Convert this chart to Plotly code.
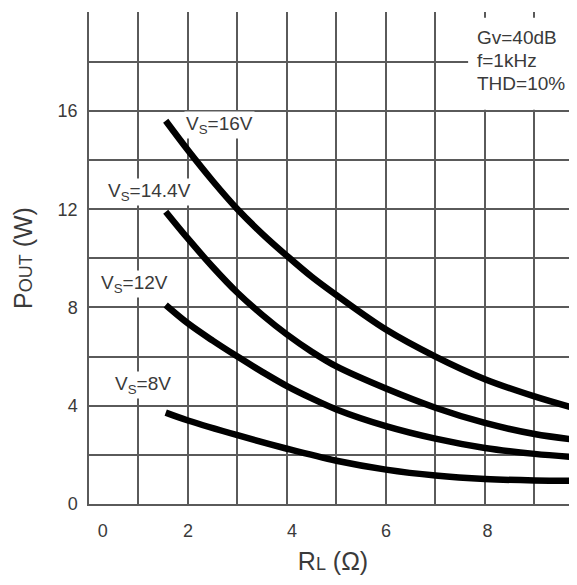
import plotly.graph_objects as go

# Load resistance (ohm) sample points and output power (W) per supply voltage
rl_16 = [1.55, 2.0, 2.5, 3.0, 3.5, 4.0, 4.5, 5.0, 6.0, 7.0, 8.0, 9.0, 9.9]
p_16 = [15.6, 14.4, 13.15, 12.0, 11.0, 10.1, 9.25, 8.5, 7.1, 6.0, 5.08, 4.38, 3.85]

rl_144 = [1.55, 2.0, 2.5, 3.0, 3.5, 4.0, 4.5, 5.0, 6.0, 7.0, 8.0, 9.0, 9.9]
p_144 = [11.9, 10.8, 9.65, 8.6, 7.7, 6.9, 6.2, 5.6, 4.7, 3.92, 3.3, 2.85, 2.6]

rl_12 = [1.55, 2.0, 2.5, 3.0, 3.5, 4.0, 4.5, 5.0, 6.0, 7.0, 8.0, 9.0, 9.9]
p_12 = [8.1, 7.35, 6.65, 6.0, 5.38, 4.8, 4.3, 3.85, 3.17, 2.66, 2.28, 2.04, 1.9]

rl_8 = [1.55, 2.0, 3.0, 4.0, 5.0, 6.0, 7.0, 8.0, 9.0, 9.9]
p_8 = [3.72, 3.4, 2.8, 2.25, 1.76, 1.4, 1.16, 1.02, 0.96, 0.95]

series_labels = ["V<sub>S</sub>=16V", "V<sub>S</sub>=14.4V", "V<sub>S</sub>=12V", "V<sub>S</sub>=8V"]
label_pos = [(1.92, 15.45), (0.34, 12.7), (0.2, 8.95), (0.48, 4.85)]

conditions = ["Gv=40dB", "f=1kHz", "THD=10%"]

x_tick_labels = ["0", "2", "4", "6", "8"]
x_tick_vals = [0.28, 2, 4.1, 6, 8.05]
y_tick_vals = [0, 4, 8, 12, 16]

FONT = "Liberation Sans, Arial, sans-serif"
TXT = "#3a3a3a"
GRID = "#5a5a5a"

fig = go.Figure()
for xs, ys in [(rl_16, p_16), (rl_144, p_144), (rl_12, p_12), (rl_8, p_8)]:
    fig.add_trace(go.Scatter(x=xs, y=ys, mode="lines",
                             line=dict(color="black", width=6.5, shape="spline", smoothing=1.0),
                             showlegend=False, hoverinfo="skip"))

# white box behind the test conditions
fig.add_shape(type="rect", xref="x", yref="y", x0=7.66, x1=10.2, y0=16.05, y1=19.8,
              fillcolor="white", line=dict(width=0), layer="above")

for txt, (lx, ly) in zip(series_labels, label_pos):
    fig.add_annotation(x=lx, y=ly, xref="x", yref="y", text=txt, showarrow=False,
                       xanchor="left", yanchor="middle", bgcolor="white", borderpad=1,
                       font=dict(family=FONT, size=19, color=TXT))

for i, txt in enumerate(conditions):
    fig.add_annotation(x=7.8, y=19.0 - i * 0.95, xref="x", yref="y", text=txt, showarrow=False,
                       xanchor="left", yanchor="middle",
                       font=dict(family=FONT, size=19, color=TXT))

fig.update_layout(
    width=569, height=577,
    margin=dict(l=81, r=0, t=4, b=81),
    paper_bgcolor="white", plot_bgcolor="white",
    font=dict(family=FONT, color=TXT),
)

fig.update_xaxes(
    range=[0, 9.86],
    tickmode="array", tickvals=x_tick_vals, ticktext=x_tick_labels,
    showgrid=False, zeroline=False,
    showline=True, linecolor=GRID, linewidth=1.5,
    ticks="", ticklabelstandoff=10,
    tickfont=dict(family=FONT, size=18, color=TXT),
    minor=dict(tick0=0, dtick=1, showgrid=True, gridcolor=GRID, gridwidth=1.5, ticks=""),
    title=dict(text="R<span style='font-size:18px'>L</span> (Ω)",
               font=dict(family=FONT, size=25, color=TXT), standoff=12),
)
fig.update_yaxes(
    range=[0, 20.03],
    tickmode="array", tickvals=y_tick_vals, ticktext=[str(v) for v in y_tick_vals],
    showgrid=False, zeroline=False,
    showline=True, linecolor=GRID, linewidth=1.5,
    ticks="", ticklabelstandoff=6,
    tickfont=dict(family=FONT, size=18, color=TXT),
    minor=dict(tick0=0, dtick=2, showgrid=True, gridcolor=GRID, gridwidth=1.5, ticks=""),
    title=dict(text="P<span style='font-size:18px'>OUT</span> (W)",
               font=dict(family=FONT, size=25, color=TXT), standoff=18),
)

fig.write_html("out.html")
